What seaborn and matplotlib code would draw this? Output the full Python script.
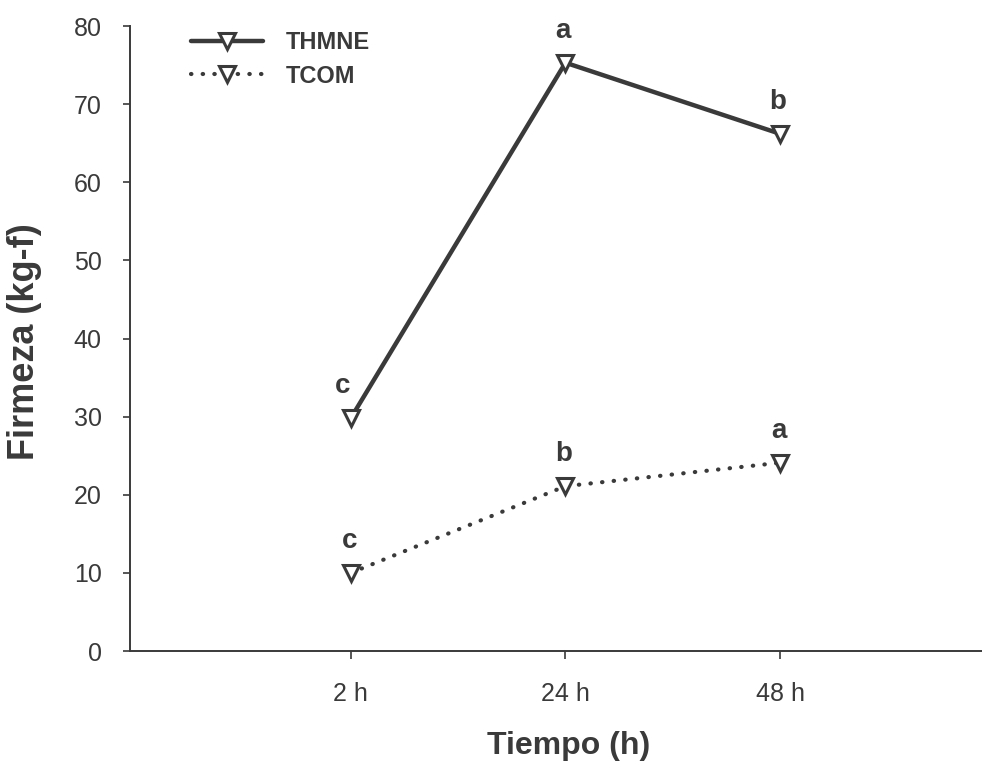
import matplotlib
matplotlib.use("Agg")
import matplotlib.pyplot as plt
import seaborn as sns
import pandas as pd

tiempos = ["2 h", "24 h", "48 h"]
thmne = [29.8, 75.3, 66.2]
tcom = [10.0, 21.1, 24.1]
letras_thmne = ["c", "a", "b"]
letras_tcom = ["c", "b", "a"]

sns.set_theme(style="ticks")
plt.rcParams['font.family'] = ['Liberation Sans', 'DejaVu Sans']

df = pd.DataFrame({
    "Tiempo": tiempos * 2,
    "Firmeza": thmne + tcom,
    "Serie": ["THMNE"] * 3 + ["TCOM"] * 3,
})

fig = plt.figure(figsize=(9.82, 7.65), dpi=100)
ax = fig.add_axes([0.132, 0.149, 0.868, 0.817])

col = "#3a3a3a"
sub = df[df.Serie == "THMNE"]
sns.lineplot(data=sub, x="Tiempo", y="Firmeza", ax=ax, color=col, lw=3.2,
             marker="v", markersize=11, markerfacecolor="white",
             markeredgecolor=col, markeredgewidth=2.2, label="THMNE", sort=False)
sub = df[df.Serie == "TCOM"]
sns.lineplot(data=sub, x="Tiempo", y="Firmeza", ax=ax, color=col, lw=3.0,
             linestyle=(0, (0.1, 2.7)), dash_capstyle="round", marker="v",
             markersize=11, markerfacecolor="white", markeredgecolor=col,
             markeredgewidth=2.2, label="TCOM", sort=False)

for i, (v, l) in enumerate(zip(thmne, letras_thmne)):
    ax.annotate(l, (i, v), xytext=(-6 if i == 0 else -2, 23), textcoords="offset points",
                ha="center", va="center", fontsize=20, fontweight="bold", color=col)
for i, (v, l) in enumerate(zip(tcom, letras_tcom)):
    ax.annotate(l, (i, v), xytext=(-1, 23), textcoords="offset points",
                ha="center", va="center", fontsize=20, fontweight="bold", color=col)

ax.set_xlim(-1.03, 2.94)
ax.set_ylim(0, 80)
ax.set_yticks(range(0, 81, 10))
ax.set_xlabel("Tiempo (h)", fontsize=23, fontweight="bold", color=col)
ax.set_ylabel("Firmeza (kg-f)", fontsize=26, fontweight="bold", color=col)
ax.xaxis.set_label_coords(0.515, -0.128)
ax.yaxis.set_label_coords(-0.103, 0.495)
ax.tick_params(axis="y", labelsize=18, colors=col, length=5, width=1.2, pad=15)
ax.tick_params(axis="x", labelsize=18, colors=col, length=6, width=1.2, pad=16)
for s in ["top", "right"]:
    ax.spines[s].set_visible(False)
for s in ["left", "bottom"]:
    ax.spines[s].set_color(col)
    ax.spines[s].set_linewidth(1.4)

leg = ax.legend(loc="upper left", bbox_to_anchor=(0.047, 1.026), frameon=False,
                fontsize=17, handlelength=3.05, handletextpad=0.95, labelspacing=0.45)
for t in leg.get_texts():
    t.set_color(col)
    t.set_fontweight("bold")

fig.savefig("out.png", dpi=100, facecolor="white")
